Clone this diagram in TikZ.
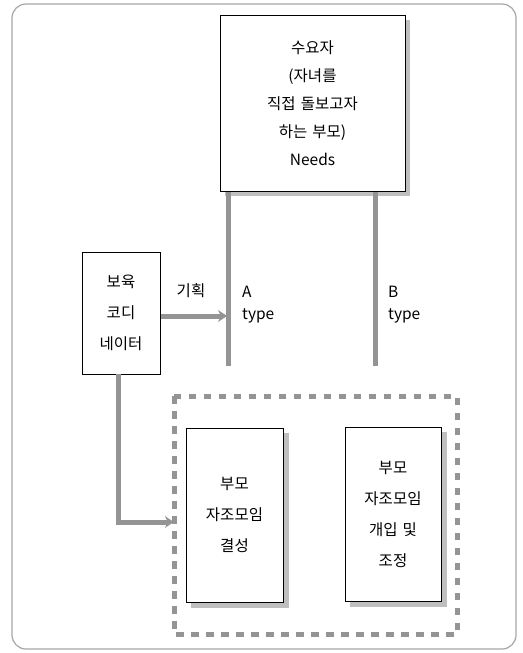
\documentclass[tikz,border=0pt]{standalone}
\usepackage{fontspec}
\setmainfont{Noto Sans CJK KR}
\usetikzlibrary{arrows.meta,calc}
\begin{document}
\begin{tikzpicture}[x=1pt,y=-1pt,
  box/.style={draw=black,line width=0.8pt,fill=white,align=center,inner sep=0pt,font=\fontsize{15.5}{28}\selectfont},
  shadowbox/.style={fill=black!25,draw=none},
  conn/.style={draw=black!42,line width=5pt},
  arr/.style={conn,-{Stealth[length=9pt,width=12pt,inset=3pt]}},
  lbl/.style={font=\fontsize{15.5}{22}\selectfont,align=left,inner sep=0pt}]
\useasboundingbox (0,0) rectangle (522,653);
\draw[black!35,line width=1.2pt,rounded corners=14pt] (12,4) rectangle (516,649);
% dashed group
\draw[black!42,line width=5pt,dash pattern=on 7.5pt off 7.5pt] (174,396) rectangle (457,634);
\node[draw=none,minimum width=283pt,minimum height=238pt,inner sep=0pt] (group) at (315.5,515) {};
% top box
\fill[shadowbox] (225,20) rectangle (410,196);
\node[box,minimum width=185pt,minimum height=176pt,text width=180pt] (need) at (312.5,103)
  {수요자\\(자녀를\\직접 돌보고자\\하는 부모)\\Needs};
% left box
\node[box,minimum width=78pt,minimum height=122pt,text width=74pt,font=\fontsize{15.5}{31}\selectfont] (coord) at (121,313) {보육\\코디\\네이터};
% inner boxes
\fill[shadowbox] (191,433) rectangle (289,608);
\node[box,minimum width=97pt,minimum height=174pt,text width=92pt,font=\fontsize{15.5}{31}\selectfont] (form) at (234.5,515) {부모\\자조모임\\결성};
\fill[shadowbox] (350,432) rectangle (447,607);
\node[box,minimum width=96pt,minimum height=174pt,text width=92pt,font=\fontsize{15.5}{31}\selectfont] (adjust) at (393,514) {부모\\자조모임\\개입 및\\조정};
% vertical connectors
\coordinate (atop) at (228,192);
\coordinate (abot) at (228,366);
\coordinate (btop) at (375,192);
\coordinate (bbot) at (375,366);
\draw[conn] (atop) -- (abot);
\draw[conn] (btop) -- (bbot);
% planning arrow
\coordinate (plan) at (228,316);
\draw[arr] (coord.east |- plan) ++(1,0) -- ($(plan)+(-1,0)$);
\node[lbl] (planlbl) at (191,291) {기획};
\node[lbl,anchor=west] (atype) at (242,305) {A\\type};
\node[lbl,anchor=west] (btype) at (388,305) {B\\type};
% lower arrow
\coordinate (bend) at (118,522);
\draw[conn] (coord.south -| bend) -- (bend);
\draw[arr] ($(bend)+(-2.5,0)$) -- (group.west |- bend);
\end{tikzpicture}
\end{document}
